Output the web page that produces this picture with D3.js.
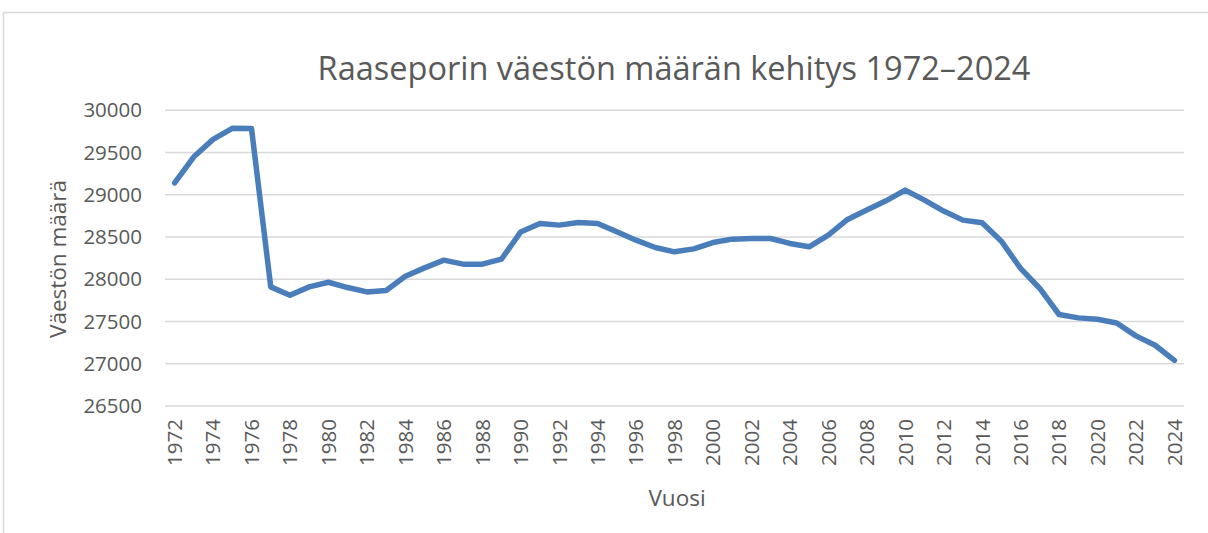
<!DOCTYPE html>
<html><head><meta charset="utf-8">
<script src="https://cdn.jsdelivr.net/npm/d3@7"></script>
<style>body{margin:0;background:#fff}svg{display:block}text{font-family:"Open Sans","Noto Sans",sans-serif}</style>
</head><body><svg id="c" width="1208" height="533"></svg>
<script>
const years = d3.range(1972, 2025);
const population = [29140,29450,29656,29787,29785,27910,27811,27910,27965,27902,27850,27867,28036,28135,28226,28179,28179,28238,28560,28661,28641,28673,28661,28562,28463,28376,28325,28360,28435,28475,28483,28483,28424,28384,28522,28708,28819,28929,29055,28937,28807,28700,28668,28451,28128,27891,27583,27543,27527,27483,27330,27219,27040];
const yTicks = [26500,27000,27500,28000,28500,29000,29500,30000];
const xTickYears = years.filter(y => (y - 1972) % 2 === 0);
const title = "Raaseporin väestön määrän kehitys 1972–2024";
const xTitle = "Vuosi", yTitle = "Väestön määrä";

const svg = d3.select("#c");
const grey = "#595959";
svg.append("rect").attr("x",3.5).attr("y",12.5).attr("width",1240).attr("height",540)
  .attr("fill","none").attr("stroke","#d9d9d9").attr("stroke-width",1.5);

const x = d3.scaleBand().domain(years).range([165,1184]);
const y = d3.scaleLinear().domain([26500,30000]).range([406,110.3]);

svg.append("g").selectAll("line").data(yTicks).join("line")
  .attr("x1",165).attr("x2",1184).attr("y1",d=>y(d)).attr("y2",d=>y(d))
  .attr("stroke","#d9d9d9").attr("stroke-width",1.5);

const yAxis = svg.append("g").attr("transform","translate(165,0)")
  .call(d3.axisLeft(y).tickValues(yTicks).tickFormat(d3.format("d")).tickSize(0).tickPadding(23));
yAxis.select(".domain").remove();
yAxis.selectAll("text").attr("fill",grey).style("font-size","20.5px").style("font-family","'Open Sans'");

const xAxis = svg.append("g").attr("transform","translate(0,406)")
  .call(d3.axisBottom(x).tickValues(xTickYears).tickSize(0));
xAxis.select(".domain").remove();
xAxis.selectAll("text").attr("fill",grey).style("font-size","20.5px").style("font-family","'Open Sans'")
  .attr("transform","rotate(-90)").attr("text-anchor","end").attr("dy","0.36em").attr("x",-13).attr("y",0);

const line = d3.line().x((d,i)=>x(years[i])+x.bandwidth()/2).y(d=>y(d));
svg.append("path").datum(population).attr("d",line).attr("fill","none")
  .attr("stroke","#4a7ebb").attr("stroke-width",5.5).attr("stroke-linejoin","round").attr("stroke-linecap","round");

svg.append("text").attr("x",674).attr("y",80).attr("text-anchor","middle").attr("fill",grey)
  .style("font-size","32.5px").text(title);
svg.append("text").attr("x",677).attr("y",506).attr("text-anchor","middle").attr("fill",grey)
  .style("font-size","22.5px").text(xTitle);
svg.append("text").attr("transform","translate(66,259) rotate(-90)").attr("text-anchor","middle").attr("fill",grey)
  .style("font-size","22.5px").text(yTitle);
</script></body></html>
